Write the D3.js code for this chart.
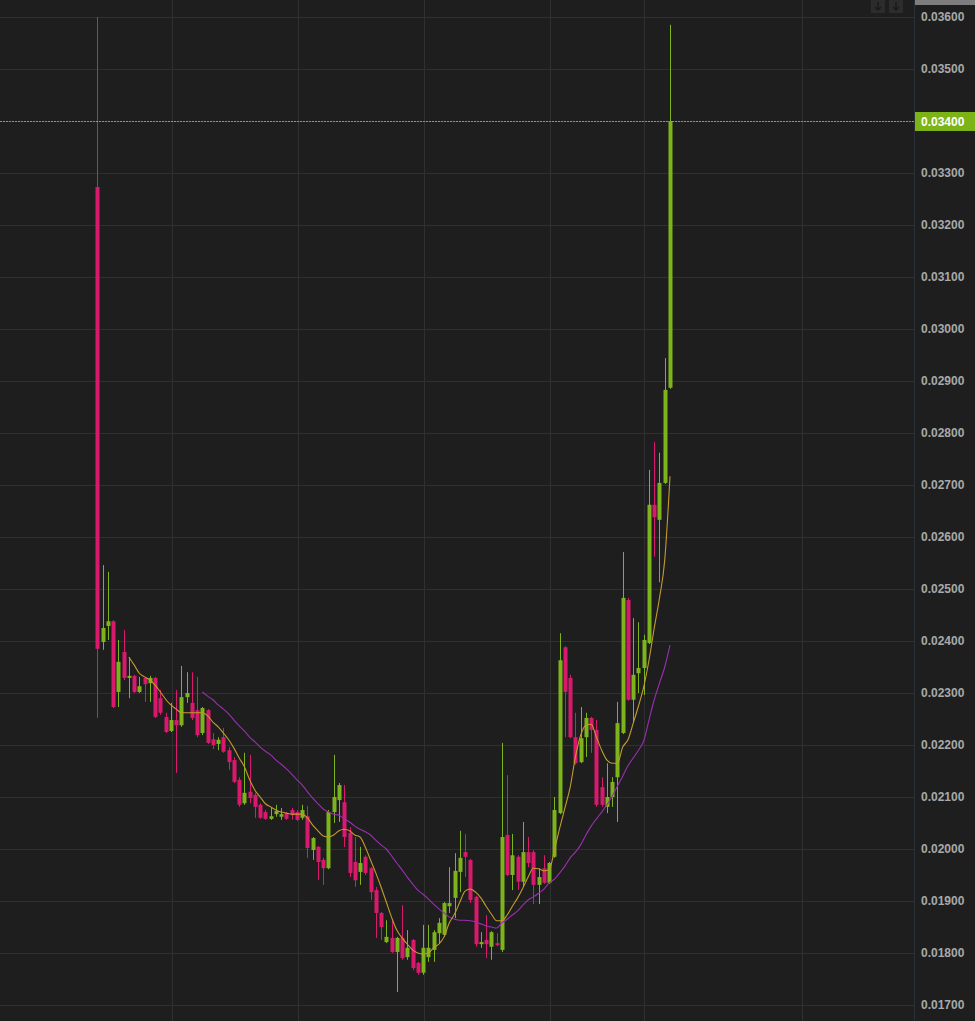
<!DOCTYPE html>
<html>
<head>
<meta charset="utf-8">
<script src="https://cdn.jsdelivr.net/npm/d3@7"></script>
<style>
html,body{margin:0;padding:0;background:#1e1e1e;overflow:hidden}
svg{display:block}
</style>
</head>
<body>
<svg id="chart" width="975" height="1021"></svg>
<script>
// ---- data ----
const open = [.03273,.02398,.02429,.02438,.02302,.02379,.02329,.02333,.02302,.02329,
.02319,.02329,.02290,.02254,.02227,.02248,.02238,.02292,.02281,.02267,
.02223,.02267,.02211,.02202,.02215,.02190,.02171,.02133,.02088,.02110,
.02104,.02085,.02071,.02058,.02067,.02062,.02069,.02075,.02071,.02060,
.02063,.01998,.02004,.01979,.01963,.02071,.02094,.02090,.02031,.01975,
.01956,.01985,.01963,.01921,.01877,.01821,.01829,.01802,.01829,.01792,
.01825,.01781,.01762,.01792,.01806,.01838,.01835,.01890,.01906,.01956,
.01994,.01979,.01908,.01817,.01825,.01812,.01819,.01806,.02027,.01950,
.01985,.01937,.01994,.01994,.01931,.01963,.01935,.01985,.02069,.02388,
.02329,.02215,.02167,.02215,.02252,.02229,.02119,.02081,.02100,.02138,
.02223,.02479,.02287,.02338,.02348,.02396,.02662,.02633,.02704,.02887];
const high = [.03600,.02546,.02533,.02440,.02402,.02421,.02369,.02335,.02331,.02331,
.02333,.02331,.02306,.02262,.02281,.02306,.02352,.02340,.02340,.02331,
.02273,.02269,.02223,.02215,.02233,.02196,.02177,.02138,.02185,.02181,
.02108,.02088,.02075,.02081,.02085,.02079,.02071,.02079,.02075,.02085,
.02083,.02023,.02006,.01983,.02075,.02181,.02127,.02123,.02042,.02023,
.02004,.01988,.01965,.01927,.01879,.01863,.01863,.01831,.01892,.01844,
.01827,.01783,.01854,.01854,.01844,.01867,.01898,.01965,.01992,.02035,
.02029,.01981,.01910,.01840,.01873,.01842,.01838,.02204,.02142,.02029,
.01988,.02052,.02023,.01998,.01963,.01988,.01975,.02100,.02415,.02390,
.02335,.02262,.02273,.02262,.02254,.02248,.02138,.02165,.02138,.02283,
.02571,.02483,.02444,.02436,.02412,.02729,.02783,.02762,.02944,.03585];
const low = [.02252,.02383,.02402,.02271,.02273,.02325,.02290,.02300,.02300,.02283,
.02283,.02252,.02258,.02223,.02225,.02146,.02235,.02281,.02248,.02215,
.02219,.02202,.02192,.02190,.02185,.02152,.02127,.02081,.02085,.02088,
.02060,.02058,.02056,.02056,.02062,.02056,.02056,.02056,.02054,.02056,
.01983,.01979,.01940,.01931,.01961,.02050,.02052,.02004,.01946,.01927,
.01931,.01950,.01902,.01829,.01825,.01819,.01800,.01725,.01787,.01787,
.01767,.01758,.01758,.01783,.01783,.01819,.01831,.01877,.01867,.01917,
.01946,.01896,.01812,.01810,.01790,.01787,.01813,.01802,.01948,.01921,
.01921,.01927,.01965,.01894,.01894,.01933,.01933,.01983,.02067,.02215,
.02213,.02162,.02165,.02177,.02185,.02081,.02081,.02069,.02081,.02052,
.02221,.02285,.02242,.02300,.02296,.02394,.02562,.02513,.02702,.02885];
const close = [.02385,.02425,.02438,.02273,.02360,.02329,.02333,.02302,.02313,.02317,
.02329,.02254,.02262,.02225,.02248,.02238,.02292,.02300,.02252,.02219,
.02271,.02204,.02200,.02210,.02187,.02167,.02129,.02085,.02108,.02098,
.02081,.02060,.02058,.02063,.02073,.02067,.02058,.02065,.02056,.02075,
.02002,.02021,.01975,.01963,.02071,.02100,.02123,.02023,.01954,.01940,
.01973,.01954,.01917,.01877,.01850,.01831,.01802,.01829,.01790,.01810,
.01771,.01762,.01810,.01810,.01840,.01858,.01896,.01896,.01958,.01983,
.01985,.01902,.01817,.01821,.01817,.01840,.01815,.02023,.01950,.01988,
.01937,.01994,.01973,.01931,.01946,.01935,.01973,.02075,.02363,.02302,
.02215,.02165,.02213,.02252,.02229,.02085,.02085,.02100,.02129,.02242,
.02483,.02287,.02335,.02348,.02402,.02662,.02638,.02704,.02883,.03400];

// fast moving-average line (first point at candle 7)
const maFastStart = 6;
const maFast = [.02369,.02354,.02338,.02331,.02325,.02315,.02302,.02288,.02277,.02269,
.02262,.02262,.02262,.02262,.02262,.02256,.02244,.02235,.02223,.02210,
.02194,.02175,.02158,.02133,.02113,.02100,.02087,.02081,.02075,.02071,
.02069,.02067,.02067,.02067,.02060,.02046,.02035,.02025,.02023,.02027,
.02035,.02038,.02035,.02027,.02023,.02004,.01979,.01954,.01927,.01898,
.01869,.01844,.01829,.01817,.01806,.01800,.01798,.01800,.01810,.01817,
.01831,.01858,.01875,.01898,.01919,.01923,.01917,.01906,.01890,.01875,
.01862,.01862,.01873,.01890,.01906,.01925,.01946,.01963,.01962,.01958,
.01960,.01998,.02040,.02079,.02119,.02177,.02219,.02238,.02240,.02215,
.02190,.02171,.02165,.02165,.02196,.02210,.02242,.02275,.02312,.02363,
.02425,.02483,.02556,.02717];
// slow moving-average line (first point at candle 21)
const maSlowStart = 20;
const maSlow = [.02302,.02294,.02287,.02277,.02269,.02260,.02248,.02237,.02227,.02215,
.02206,.02196,.02188,.02181,.02171,.02163,.02154,.02144,.02133,.02123,
.02110,.02098,.02087,.02077,.02071,.02067,.02065,.02058,.02052,.02044,
.02038,.02033,.02027,.02017,.02008,.02000,.01987,.01973,.01960,.01946,
.01933,.01921,.01913,.01904,.01894,.01885,.01877,.01869,.01865,.01863,
.01863,.01862,.01860,.01856,.01852,.01850,.01848,.01858,.01865,.01873,
.01881,.01892,.01902,.01908,.01915,.01923,.01935,.01942,.01954,.01967,
.01983,.01994,.02008,.02027,.02044,.02058,.02071,.02085,.02102,.02121,
.02140,.02160,.02175,.02190,.02208,.02248,.02287,.02319,.02350,.02392];

const yTicks = [0.017,0.018,0.019,0.020,0.021,0.022,0.023,0.024,0.025,0.026,0.027,
0.028,0.029,0.030,0.031,0.032,0.033,0.034,0.035,0.036];
const timeGrid = [14.2, 38.2, 62.2, 86.2, 104.1, 134.1]; // candle positions of vertical grid lines
const lastPrice = 0.034;

// ---- layout ----
const W = 975, H = 1021, plotRight = 914;
const colors = {bg:"#1e1e1e", grid:"#303030", up:"#7db31d", down:"#d9196c",
  maFast:"#c49a2e", maSlow:"#9a2fb0", label:"#a9a9a9", axisLine:"#2a3038"};

const svg = d3.select("#chart");
const x = d3.scaleLinear().domain([-18.52, 155.44]).range([0, plotRight]);
const y = d3.scaleLinear().domain([0.017, 0.036]).range([1005, 17]);

svg.append("rect").attr("width", W).attr("height", H).attr("fill", colors.bg);

// grid
const grid = svg.append("g").attr("shape-rendering","crispEdges");
grid.selectAll("line.h").data(yTicks).join("line")
  .attr("x1", 0).attr("x2", plotRight)
  .attr("y1", d => Math.round(y(d)) + 0.5).attr("y2", d => Math.round(y(d)) + 0.5)
  .attr("stroke", colors.grid).attr("stroke-width", 1);
grid.selectAll("line.v").data(timeGrid).join("line")
  .attr("x1", d => Math.round(x(d)) + 0.5).attr("x2", d => Math.round(x(d)) + 0.5)
  .attr("y1", 0).attr("y2", H)
  .attr("stroke", colors.grid).attr("stroke-width", 1);

// axis separator
svg.append("line").attr("x1", plotRight + 0.5).attr("x2", plotRight + 0.5)
  .attr("y1", 0).attr("y2", H).attr("stroke", colors.axisLine).attr("stroke-width", 1);

// y axis labels via d3 axis
const yAxis = d3.axisRight(y).tickValues(yTicks.filter(d => Math.abs(d - lastPrice) > 1e-9))
  .tickFormat(d3.format(".5f")).tickSize(0).tickPadding(0);
const ag = svg.append("g").attr("transform", `translate(${plotRight + 7},0)`).call(yAxis);
ag.select(".domain").remove();
ag.selectAll("text").attr("fill", colors.label)
  .attr("font-family", "'Liberation Sans', Arial, sans-serif")
  .attr("font-size", 12).attr("font-weight", "bold");

// candles
const candles = open.map((o, i) => ({i, o, h: high[i], l: low[i], c: close[i]}));
const cx = d => Math.round(x(d.i));
const cg = svg.append("g");
cg.selectAll("line.wick").data(candles).join("line")
  .attr("x1", d => cx(d) + 0.5).attr("x2", d => cx(d) + 0.5)
  .attr("y1", d => y(d.h)).attr("y2", d => y(d.l))
  .attr("stroke", d => d.c >= d.o ? colors.up : colors.down).attr("stroke-width", 1);
cg.selectAll("rect.body").data(candles).join("rect")
  .attr("x", d => cx(d) - 1.5).attr("width", 4)
  .attr("y", d => y(Math.max(d.o, d.c)))
  .attr("height", d => Math.max(1.2, Math.abs(y(d.o) - y(d.c))))
  .attr("fill", d => d.c >= d.o ? colors.up : colors.down);

// moving averages
const line = d3.line().x(d => x(d[0])).y(d => y(d[1])).curve(d3.curveMonotoneX);
svg.append("path").datum(maSlow.map((v, k) => [maSlowStart + k, v]))
  .attr("d", line).attr("fill", "none").attr("stroke", colors.maSlow).attr("stroke-width", 1.1);
svg.append("path").datum(maFast.map((v, k) => [maFastStart + k, v]))
  .attr("d", line).attr("fill", "none").attr("stroke", colors.maFast).attr("stroke-width", 1.1);

// last price line + tag
const py = Math.round(y(lastPrice)) + 0.5;
svg.append("line").attr("x1", 0).attr("x2", plotRight).attr("y1", py).attr("y2", py)
  .attr("stroke", "#7fae24").attr("stroke-width", 1).attr("stroke-dasharray", "2,1")
  .attr("shape-rendering", "crispEdges");
svg.append("rect").attr("x", plotRight + 1).attr("y", py - 9.5).attr("width", W - plotRight - 1).attr("height", 19)
  .attr("fill", "#7cb417");
svg.append("text").attr("x", plotRight + 7).attr("y", py).attr("dy", "0.35em")
  .attr("fill", "#ffffff").attr("font-family", "'Liberation Sans', Arial, sans-serif")
  .attr("font-size", 12).attr("font-weight", "bold").text(d3.format(".5f")(lastPrice));

// top-right controls
svg.append("rect").attr("x", plotRight + 1).attr("y", 0).attr("width", W - plotRight - 1).attr("height", 5).attr("fill", "#7d7d7d");
[871, 889].forEach(bx => {
  svg.append("rect").attr("x", bx).attr("y", 0).attr("width", 14).attr("height", 13).attr("fill", "#2c2c2c");
  svg.append("path").attr("d", `M${bx+7},2 L${bx+7},10 M${bx+4},7 L${bx+7},10 L${bx+10},7`)
    .attr("stroke", "#1a1a1a").attr("fill", "none").attr("stroke-width", 1.5);
});
</script>
</body>
</html>
